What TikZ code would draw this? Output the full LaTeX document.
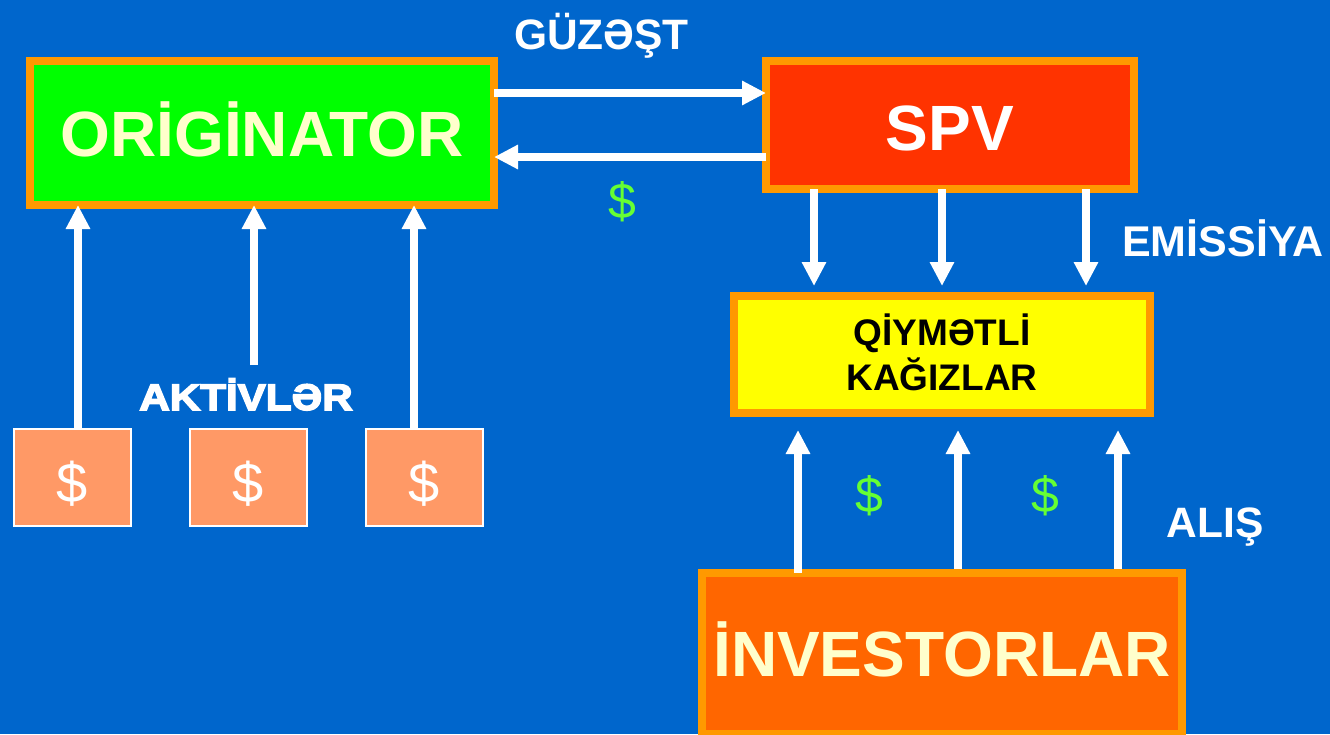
\documentclass[tikz,border=0pt]{standalone}
\usepackage{fontspec}
\setmainfont{Liberation Sans}
\newfontfamily\widebold[FakeBold=4,FakeStretch=1.14]{Liberation Sans Bold}
\usetikzlibrary{arrows.meta}
\definecolor{bgblue}{HTML}{0066CC}
\definecolor{edgeorange}{HTML}{FF9900}
\definecolor{cream}{HTML}{FFFFCC}
\definecolor{dollargreen}{HTML}{66FF33}
\definecolor{assetorange}{HTML}{FF9966}
\definecolor{puregreen}{HTML}{00FF00}
\definecolor{spvred}{HTML}{FF3300}
\definecolor{pureyellow}{HTML}{FFFF00}
\definecolor{invorange}{HTML}{FF6600}
\tikzset{
  box/.style={draw=edgeorange,line width=8pt,outer sep=0pt,inner sep=0pt,font=\bfseries\fontsize{64}{64}\selectfont,text height=46pt,text depth=0pt,align=center},
  asset/.style={draw=white,fill=assetorange,line width=1.5pt,outer sep=0pt,inner sep=0pt,minimum width=117pt,minimum height=97pt,text=white,font=\fontsize{56}{56}\selectfont,text height=49pt,text depth=0pt},
  lab/.style={text=white,inner sep=0pt,font=\bfseries\fontsize{42.5}{42.5}\selectfont,text height=30pt,text depth=0pt},
  money/.style={text=dollargreen,inner sep=0pt,font=\fontsize{50}{50}\selectfont},
  arr/.style={draw=white,line width=8pt,-{Triangle[width=23pt,length=24pt]}}
}
\begin{document}
\begin{tikzpicture}[x=1pt,y=-1pt]
\useasboundingbox (0,0) rectangle (1330,734);
\fill[bgblue] (0,0) rectangle (1330,734);
\node[box,fill=puregreen,text=cream,minimum width=464pt,minimum height=144pt] (orig) at (262,133) {ORİGİNATOR};
\node[box,fill=spvred,text=white,minimum width=368pt,minimum height=128pt,text height=50pt] (spv) at (950,125) {SPV};
\node[box,fill=pureyellow,text=black,minimum width=416pt,minimum height=117pt,text height=71.5pt,font=\bfseries\fontsize{37}{45}\selectfont] (paper) at (942,354.5) {QİYMƏTLİ\\KAĞIZLAR};
\node[box,fill=invorange,text=cream,minimum width=480pt,minimum height=161pt] (inv) at (942,653.5) {İNVESTORLAR};
\node[asset] (a1) at (72.5,477.5) {\$};
\node[asset] (a2) at (248.5,477.5) {\$};
\node[asset] (a3) at (424.5,477.5) {\$};
\node[text=white,inner sep=0pt,text height=27pt,text depth=0pt,font=\widebold\fontsize{37}{37}\selectfont] (akt) at (246,396.5) {AKTİVLƏR};
\node[lab] (guz) at (601.5,34.5) {GÜZƏŞT};
\node[lab,font=\bfseries\fontsize{43}{43}\selectfont] (emi) at (1223,241.5) {EMİSSİYA};
\node[lab] (ali) at (1215,522) {ALIŞ};
\node[money] (m1) at (622,202) {\$};
\node[money] (m2) at (869,495.5) {\$};
\node[money] (m3) at (1045,495.5) {\$};
\coordinate (s1) at (78,0);
\coordinate (s2) at (254,365);
\coordinate (s3) at (414,0);
\coordinate (t) at (0,93);
\coordinate (b) at (0,157);
\coordinate (d1) at (814,0);
\coordinate (d2) at (942,0);
\coordinate (d3) at (1086,0);
\coordinate (u1) at (798,0);
\coordinate (u2) at (958,0);
\coordinate (u3) at (1118,0);
\draw[arr] (s1 |- a1.north) -- (s1 |- orig.south);
\draw[arr] (s2) -- (s2 |- orig.south);
\draw[arr] (s3 |- a3.north) -- (s3 |- orig.south);
\draw[arr] (orig.east |- t) -- (spv.west |- t);
\draw[arr] (spv.west |- b) -- (orig.east |- b);
\draw[arr,shorten >=10pt] (d1 |- spv.south) -- (d1 |- paper.north);
\draw[arr,shorten >=10pt] (d2 |- spv.south) -- (d2 |- paper.north);
\draw[arr,shorten >=10pt] (d3 |- spv.south) -- (d3 |- paper.north);
\draw[arr,shorten >=17pt] (u1 |- inv.north) -- (u1 |- paper.south);
\draw[arr,shorten >=17pt,shorten <=4pt] (u2 |- inv.north) -- (u2 |- paper.south);
\draw[arr,shorten >=17pt,shorten <=4pt] (u3 |- inv.north) -- (u3 |- paper.south);
\end{tikzpicture}
\end{document}
